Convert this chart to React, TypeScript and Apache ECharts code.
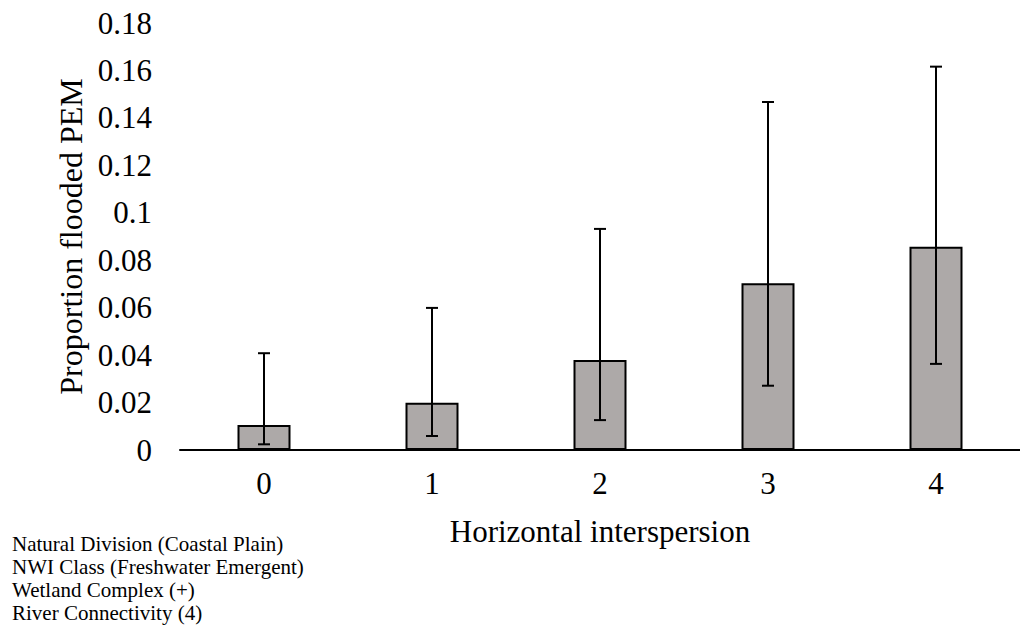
import React, { useEffect, useRef } from "react";
import * as echarts from "echarts";

const categories = ["0", "1", "2", "3", "4"];
const means = [0.0105, 0.0199, 0.0379, 0.0703, 0.0857];
const upper = [0.0408, 0.0599, 0.0932, 0.1467, 0.1616];
const lower = [0.0024, 0.0059, 0.0126, 0.0271, 0.0363];
const notes = [
  "Natural Division (Coastal Plain)",
  "NWI Class (Freshwater Emergent)",
  "Wetland Complex (+)",
  "River Connectivity (4)",
];

const FONT = "'Liberation Serif', 'Times New Roman', serif";

export default function App() {
  const ref = useRef<HTMLDivElement>(null);
  useEffect(() => {
    if (!ref.current) return;
    const chart = echarts.init(ref.current, undefined, { renderer: "svg" });
    const errData = categories.map((_, i) => [i, lower[i], upper[i]]);
    chart.setOption({
      animation: false,
      backgroundColor: "#ffffff",
      grid: { left: 180, right: -6, top: 23, bottom: 180, containLabel: false },
      xAxis: {
        type: "category",
        data: categories,
        axisLine: { show: true, lineStyle: { color: "#000", width: 2 } },
        axisTick: { show: false },
        axisLabel: { color: "#000", fontFamily: FONT, fontSize: 31, margin: 18 },
        name: "Horizontal interspersion",
        nameLocation: "middle",
        nameGap: 66,
        nameTextStyle: { color: "#000", fontFamily: FONT, fontSize: 31 },
      },
      yAxis: {
        type: "value",
        min: 0,
        max: 0.18,
        interval: 0.02,
        axisLine: { show: false },
        axisTick: { show: false },
        splitLine: { show: false },
        axisLabel: {
          color: "#000",
          fontFamily: FONT,
          fontSize: 31,
          margin: 28,
          formatter: (v: number) => String(parseFloat(v.toFixed(2))),
        },
        name: "Proportion flooded PEM",
        nameLocation: "middle",
        nameGap: 90,
        nameTextStyle: { color: "#000", fontFamily: FONT, fontSize: 32 },
      },
      series: [
        {
          type: "bar",
          data: means,
          barWidth: 53,
          itemStyle: { color: "#ADA9A8", borderColor: "#000", borderWidth: 2 },
        },
        {
          type: "custom",
          data: errData,
          z: 10,
          renderItem: (params: any, api: any) => {
            const x = api.value(0);
            const lo = api.coord([x, api.value(1)]);
            const hi = api.coord([x, api.value(2)]);
            const half = 6;
            const st = { stroke: "#000", lineWidth: 2 };
            return {
              type: "group",
              children: [
                { type: "line", shape: { x1: hi[0], y1: hi[1], x2: lo[0], y2: lo[1] }, style: st },
                { type: "line", shape: { x1: hi[0] - half, y1: hi[1], x2: hi[0] + half, y2: hi[1] }, style: st },
                { type: "line", shape: { x1: lo[0] - half, y1: lo[1], x2: lo[0] + half, y2: lo[1] }, style: st },
              ],
            };
          },
        },
      ],
      graphic: notes.map((t, i) => ({
        type: "text",
        x: 12,
        y: 543.5 + i * 23.3,
        style: { text: t, fill: "#000", font: `21px ${FONT}`, verticalAlign: "middle" },
      })),
    });
    return () => chart.dispose();
  }, []);
  return (
    <div
      ref={ref}
      style={{ position: "fixed", left: 0, top: 0, width: 1020, height: 630 }}
    />
  );
}
